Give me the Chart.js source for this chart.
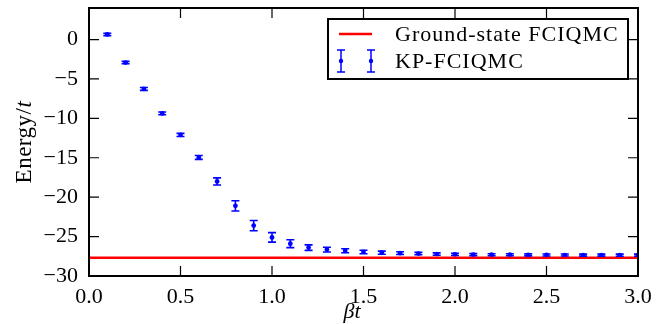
<!DOCTYPE html>
<html>
<head>
<meta charset="utf-8">
<script src="https://cdn.jsdelivr.net/npm/chart.js@4"></script>
<style>
  html, body { margin: 0; padding: 0; background: #fff; }
  canvas { display: block; }
</style>
</head>
<body>
<canvas id="energyChart" width="669" height="324"></canvas>
<script>
// KP-FCIQMC energies vs beta*t
const beta = [0.1, 0.2, 0.3, 0.4, 0.5, 0.6, 0.7, 0.8, 0.9, 1.0,
              1.1, 1.2, 1.3, 1.4, 1.5, 1.6, 1.7, 1.8, 1.9, 2.0,
              2.1, 2.2, 2.3, 2.4, 2.5, 2.6, 2.7, 2.8, 2.9, 3.0];
const energy = [0.65, -2.92, -6.27, -9.37, -12.1, -14.96, -18.0, -21.1, -23.6, -25.1,
                -25.9, -26.4, -26.65, -26.8, -26.95, -27.05, -27.1, -27.15, -27.22, -27.25,
                -27.28, -27.3, -27.3, -27.32, -27.33, -27.34, -27.35, -27.35, -27.36, -27.36];
const energyErr = [0.15, 0.15, 0.18, 0.18, 0.2, 0.25, 0.45, 0.65, 0.65, 0.6,
                   0.5, 0.35, 0.3, 0.25, 0.22, 0.2, 0.18, 0.15, 0.15, 0.14,
                   0.14, 0.13, 0.13, 0.13, 0.13, 0.13, 0.13, 0.13, 0.13, 0.13];
// ground-state FCIQMC reference energy
const groundState = -27.7;
const xRange = [0, 3];
const yRange = [-30, 4];
const xTicks = [0, 0.5, 1, 1.5, 2, 2.5, 3];
const yTicks = [-30, -25, -20, -15, -10, -5, 0];

const FONT = 'Liberation Serif, Times New Roman, serif';
const BLUE = '#0000ff';
const RED = '#ff0000';

const fmtMinus = v => (v < 0 ? '\u2212' + Math.abs(v) : String(v));

// error bars drawn through the chart's own scales
const errorBars = {
  id: 'errorBars',
  afterDatasetsDraw(chart) {
    const { ctx, chartArea, scales: { x, y } } = chart;
    ctx.save();
    ctx.beginPath();
    ctx.rect(chartArea.left, chartArea.top, chartArea.right - chartArea.left, chartArea.bottom - chartArea.top);
    ctx.clip();
    ctx.strokeStyle = BLUE;
    ctx.lineWidth = 1.6;
    beta.forEach((b, i) => {
      const px = x.getPixelForValue(b);
      const top = y.getPixelForValue(energy[i] + energyErr[i]);
      const bot = y.getPixelForValue(energy[i] - energyErr[i]);
      ctx.beginPath();
      ctx.moveTo(px, top); ctx.lineTo(px, bot);
      ctx.moveTo(px - 4, top); ctx.lineTo(px + 4, top);
      ctx.moveTo(px - 4, bot); ctx.lineTo(px + 4, bot);
      ctx.stroke();
    });
    ctx.restore();
  }
};

// frame, inward ticks, axis titles and legend
const decorations = {
  id: 'decorations',
  afterDraw(chart) {
    const { ctx, chartArea: a, scales: { x, y } } = chart;
    ctx.save();
    ctx.strokeStyle = '#000';
    ctx.lineWidth = 1.2;
    x.ticks.forEach(t => {
      const px = x.getPixelForValue(t.value);
      ctx.beginPath();
      ctx.moveTo(px, a.bottom); ctx.lineTo(px, a.bottom - 10);
      ctx.moveTo(px, a.top); ctx.lineTo(px, a.top + 10);
      ctx.stroke();
    });
    y.ticks.forEach(t => {
      const py = y.getPixelForValue(t.value);
      ctx.beginPath();
      ctx.moveTo(a.left, py); ctx.lineTo(a.left + 10, py);
      ctx.moveTo(a.right, py); ctx.lineTo(a.right - 10, py);
      ctx.stroke();
    });
    ctx.lineWidth = 2;
    ctx.strokeRect(a.left, a.top, a.right - a.left, a.bottom - a.top);

    // axis titles
    ctx.fillStyle = '#000';
    ctx.textBaseline = 'middle';
    ctx.font = 'italic 22px ' + FONT;
    ctx.textAlign = 'center';
    ctx.fillText('\u03b2t', 352, 312);

    ctx.save();
    ctx.translate(25, 142);
    ctx.rotate(-Math.PI / 2);
    ctx.letterSpacing = '0.5px';
    ctx.font = '23px ' + FONT;
    const w1 = ctx.measureText('Energy/').width;
    ctx.font = 'italic 23px ' + FONT;
    const w2 = ctx.measureText('t').width;
    ctx.textAlign = 'left';
    ctx.font = '23px ' + FONT;
    ctx.fillText('Energy/', -(w1 + w2) / 2, 0);
    ctx.font = 'italic 23px ' + FONT;
    ctx.fillText('t', -(w1 + w2) / 2 + w1, 0);
    ctx.restore();

    // legend
    const lx = 328, ly = 19, lw = 300, lh = 60;
    ctx.fillStyle = '#fff';
    ctx.fillRect(lx, ly, lw, lh);
    ctx.lineWidth = 2;
    ctx.strokeStyle = '#000';
    ctx.strokeRect(lx, ly, lw, lh);

    ctx.strokeStyle = RED;
    ctx.lineWidth = 2.5;
    ctx.beginPath();
    ctx.moveTo(339, 34); ctx.lineTo(372, 34);
    ctx.stroke();

    ctx.strokeStyle = BLUE;
    ctx.fillStyle = BLUE;
    ctx.lineWidth = 1.5;
    [341, 371].forEach(px => {
      ctx.beginPath();
      ctx.moveTo(px, 50); ctx.lineTo(px, 72);
      ctx.moveTo(px - 4, 50); ctx.lineTo(px + 4, 50);
      ctx.moveTo(px - 4, 72); ctx.lineTo(px + 4, 72);
      ctx.stroke();
      ctx.beginPath();
      ctx.arc(px, 61, 2.2, 0, Math.PI * 2);
      ctx.fill();
    });

    ctx.fillStyle = '#000';
    ctx.font = '22px ' + FONT;
    ctx.letterSpacing = '1px';
    ctx.textAlign = 'left';
    ctx.textBaseline = 'middle';
    ctx.fillText('Ground-state FCIQMC', 395, 35);
    ctx.fillText('KP-FCIQMC', 395, 62);
    ctx.restore();
  }
};

const ctx = document.getElementById('energyChart').getContext('2d');
new Chart(ctx, {
  type: 'scatter',
  data: {
    datasets: [
      {
        type: 'line',
        label: 'Ground-state FCIQMC',
        data: xRange.map(b => ({ x: b, y: groundState })),
        borderColor: RED,
        borderWidth: 2.5,
        pointRadius: 0,
        fill: false
      },
      {
        label: 'KP-FCIQMC',
        data: beta.map((b, i) => ({ x: b, y: energy[i] })),
        backgroundColor: BLUE,
        borderColor: BLUE,
        pointRadius: 2.4,
        borderWidth: 0,
        showLine: false
      }
    ]
  },
  options: {
    responsive: false,
    animation: false,
    layout: { padding: { left: 0, right: 31, top: 8, bottom: 0 } },
    plugins: { legend: { display: false }, tooltip: { enabled: false } },
    scales: {
      x: {
        type: 'linear',
        min: xRange[0],
        max: xRange[1],
        grid: { display: false, drawTicks: false },
        border: { display: false },
        afterBuildTicks: s => { s.ticks = xTicks.map(v => ({ value: v })); },
        ticks: {
          autoSkip: false,
          padding: 8,
          color: '#000',
          font: { family: FONT, size: 22 },
          maxRotation: 0,
          callback: v => v.toFixed(1)
        },
        afterFit: s => { s.height = 48; s.paddingLeft = 0; s.paddingRight = 0; }
      },
      y: {
        min: yRange[0],
        max: yRange[1],
        grid: { display: false, drawTicks: false },
        border: { display: false },
        afterBuildTicks: s => { s.ticks = yTicks.map(v => ({ value: v })); },
        ticks: {
          autoSkip: false,
          padding: 11,
          color: '#000',
          font: { family: FONT, size: 22 },
          callback: v => fmtMinus(v)
        },
        afterFit: s => { s.width = 89; s.paddingTop = 0; s.paddingBottom = 0; }
      }
    }
  },
  plugins: [errorBars, decorations]
});
</script>
</body>
</html>
